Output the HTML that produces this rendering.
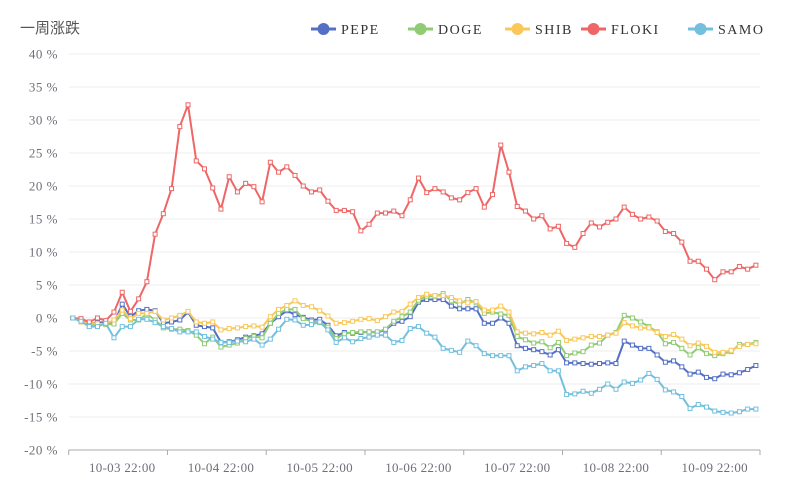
<!DOCTYPE html>
<html><head><meta charset="utf-8"><style>
body{margin:0;background:#fff;}
svg{display:block;font-family:"Liberation Serif","Noto Serif CJK SC",serif;}
</style></head><body>
<svg id="chart" width="800" height="500" xmlns="http://www.w3.org/2000/svg">
<text x="20" y="33" font-family="Liberation Sans, Noto Sans CJK SC, sans-serif" font-size="15" fill="#555">一周涨跌</text>
<g id="grid"></g><g id="axes"></g><g id="series"></g><g id="legend"></g>
</svg>
<script>
const seriesNames = ["PEPE","DOGE","SHIB","FLOKI","SAMO"];
const seriesColors = ["#5470c6","#91cc75","#fac858","#ee6666","#73c0de"];
const yTicks = [-20,-15,-10,-5,0,5,10,15,20,25,30,35,40];
const xTickLabels = ["10-03 22:00","10-04 22:00","10-05 22:00","10-06 22:00","10-07 22:00","10-08 22:00","10-09 22:00"];
const pepe = [0,-0.3,-0.8,-0.7,-0.6,-0.8,2.1,0.2,1.1,1.3,1.1,-0.8,-0.6,-0.3,0.9,-1.1,-1.3,-1.5,-3.7,-3.6,-3.3,
-2.9,-2.7,-2.4,-0.8,0.2,1.1,0.5,0.1,-0.3,-0.2,-1.1,-2.7,-2.2,-2.3,-2.2,-2.1,-2.2,-1.8,-0.8,-0.5,0.2,2.4,
2.8,2.8,2.8,1.8,1.4,1.4,1.4,-0.8,-0.8,0,-0.8,-4.2,
-4.6,-4.8,-5.1,-5.6,-4.8,-6.8,-6.8,-6.9,-7.0,-6.9,-6.8,-6.9,-3.5,-4.1,-4.6,-4.6,-5.6,-6.7,-6.5,-7.4,-8.5,-8.2,-9.0,-9.2,-8.5,-8.6,-8.3,-7.8,-7.2];
const doge = [0,-0.4,-1.2,-1.0,-1.0,-0.9,0.7,-0.3,-0.3,0.6,-0.3,-1.5,-1.7,-1.7,-1.9,-2.6,-3.9,-2.9,-4.4,-4.1,-3.8,
-3.1,-2.8,-3.0,-0.8,0.7,1.3,1.3,-0.1,-0.5,-0.7,-1.4,-3.1,-2.4,-2.2,-2.1,-2.1,-2.1,-1.7,-0.5,0.2,0.9,2.7,
3.3,3.3,3.7,2.6,2.1,2.8,2.3,0.7,0.9,0.6,0.4,-2.8,
-3.3,-3.8,-3.6,-4.5,-3.7,-5.7,-5.3,-5.1,-4.1,-3.8,-2.6,-2.2,0.4,0,-0.6,-1.3,-2.1,-3.9,-3.7,-4.6,-5.6,-4.5,-5.4,-5.7,-5.4,-5.1,-4.0,-4.0,-3.7];
const shib = [0,-0.6,-0.7,-0.9,-0.9,-0.3,1.2,-0.1,0.7,0.7,1.0,-0.3,0,0.4,1.0,-0.6,-0.8,-0.6,-1.8,-1.6,-1.5,
-1.3,-1.2,-1.4,0.2,1.3,1.9,2.6,1.9,1.7,1.1,0.3,-0.8,-0.7,-0.5,-0.2,-0.1,-0.4,0.2,0.9,1.0,2.1,3.1,
3.6,3.4,3.4,3.1,2.6,2.3,2.5,1.2,1.2,1.8,0.9,-2.1,
-2.3,-2.4,-2.2,-2.6,-2.0,-3.4,-3.2,-3.0,-2.8,-2.8,-2.6,-2.3,-0.7,-1.2,-1.5,-1.5,-2.2,-2.8,-2.5,-3.2,-4.2,-3.8,-4.3,-5.2,-5.2,-4.9,-4.3,-4.0,-3.9];
const floki = [0,-0.1,-0.6,0,-0.4,0.9,3.9,1.0,2.9,5.5,12.7,15.8,19.6,29.0,32.3,23.8,22.6,19.7,16.5,21.4,
19.1,20.4,19.9,17.6,23.6,22.1,22.9,21.6,20.0,19.1,19.4,17.7,16.3,16.3,16.1,13.2,14.2,15.9,15.9,16.2,
15.5,17.9,21.2,19.0,19.6,19.1,18.2,17.9,19.0,19.6,16.8,18.7,26.2,22.1,16.9,16.2,
15.0,15.5,13.5,13.9,11.3,10.7,12.8,14.4,13.8,14.5,15.0,16.8,15.7,15.0,15.3,14.7,13.1,12.8,11.5,8.6,8.6,7.4,5.8,7.0,7.0,7.8,7.4,8.0];
const samo = [0,-0.5,-1.3,-1.3,-0.8,-3.0,-1.3,-1.3,-0.2,-0.2,-0.7,-1.3,-1.6,-2.1,-2.1,-2.1,-2.8,-3.2,-3.7,-3.7,-3.5,
-3.6,-3.2,-4.1,-3.2,-1.7,-0.2,-0.3,-1.1,-1.0,-0.6,-1.8,-3.7,-3.0,-3.6,-3.1,-2.9,-2.6,-2.6,-3.7,-3.4,-1.6,-1.3,
-2.3,-2.9,-4.6,-4.9,-5.2,-3.5,-4.2,-5.4,-5.7,-5.7,-5.7,-8.0,
-7.4,-7.2,-6.9,-8.0,-8.0,-11.6,-11.5,-11.1,-11.4,-10.8,-10.0,-10.8,-9.7,-9.9,-9.4,-8.4,-9.3,-10.9,-11.2,-11.9,-13.7,-13.1,-13.5,-14.1,-14.3,-14.4,-14.2,-13.8,-13.8];
const allSeries = [pepe, doge, shib, floki, samo];

const NS = "http://www.w3.org/2000/svg";
const L = 68.7, R = 760, T = 54, B = 450, yMin = -20, yMax = 40;
const N = pepe.length, ticksEvery = 12;
const band = (R - L) / N;
const xScale = i => L + (i + 0.5) * band;
const yScale = v => B - (v - yMin) / (yMax - yMin) * (B - T);
function mk(tag, attrs, parent){const e=document.createElementNS(NS,tag);for(const k in attrs)e.setAttribute(k,attrs[k]);parent.appendChild(e);return e;}
const grid=document.getElementById('grid'), axes=document.getElementById('axes'), sg=document.getElementById('series'), lg=document.getElementById('legend');

yTicks.forEach(v=>{
  const y=yScale(v);
  if(v!==yMin){const g=mk('line',{x1:L,x2:R,y1:y,y2:y,stroke:'#eeeeee','stroke-width':1},grid);
  
  }
  const t=mk('text',{x:58,y:y+4.5,'text-anchor':'end','font-size':13,'letter-spacing':0.5,fill:'#6e7079'},axes);
  t.textContent=v+' %';
  
  
});
const ax=mk('line',{x1:L,x2:R,y1:B,y2:B,stroke:'#aaaaaa','stroke-width':1},axes);


for(let k=0;k*ticksEvery<=N;k++){
  const x=L+k*ticksEvery*band;
  const tk=mk('line',{x1:x,x2:x,y1:B,y2:B+5,stroke:'#aaaaaa'},axes);
  
  
}
mk('line',{x1:R,x2:R,y1:B,y2:B+5,stroke:'#aaaaaa'},axes);
xTickLabels.forEach((s,k)=>{
  const t=mk('text',{x:xScale(6+k*ticksEvery),y:B+22,'text-anchor':'middle','font-size':13,'letter-spacing':0.3,fill:'#6e7079'},axes);
  t.textContent=s;
  
  
});

allSeries.forEach((data,si)=>{
  const g=mk('g',{},sg);
  
  
  const d=data.map((v,i)=>(i?'L':'M')+xScale(i).toFixed(1)+' '+yScale(v).toFixed(1)).join(' ');
  const p=mk('path',{d:d,fill:'none',stroke:seriesColors[si],'stroke-width':2,'stroke-linejoin':'round'},g);
  
  
  data.forEach((v,i)=>{
    const r=mk('rect',{x:xScale(i)-2,y:yScale(v)-2,width:4,height:4,fill:'#fff',stroke:seriesColors[si],'stroke-width':1},g);
    
    
  });
});

const legendX=[311,408,505,581,688];
seriesNames.forEach((n,si)=>{
  const g=mk('g',{},lg);
  
  
  const x=legendX[si];
  mk('line',{x1:x,x2:x+25,y1:29,y2:29,stroke:seriesColors[si],'stroke-width':3},g);
  mk('circle',{cx:x+12.5,cy:29,r:6,fill:seriesColors[si]},g);
  const t=mk('text',{x:x+30,y:34,'font-size':14,'letter-spacing':1.5,fill:'#333'},g);
  t.textContent=n;
});
</script>
</body></html>
